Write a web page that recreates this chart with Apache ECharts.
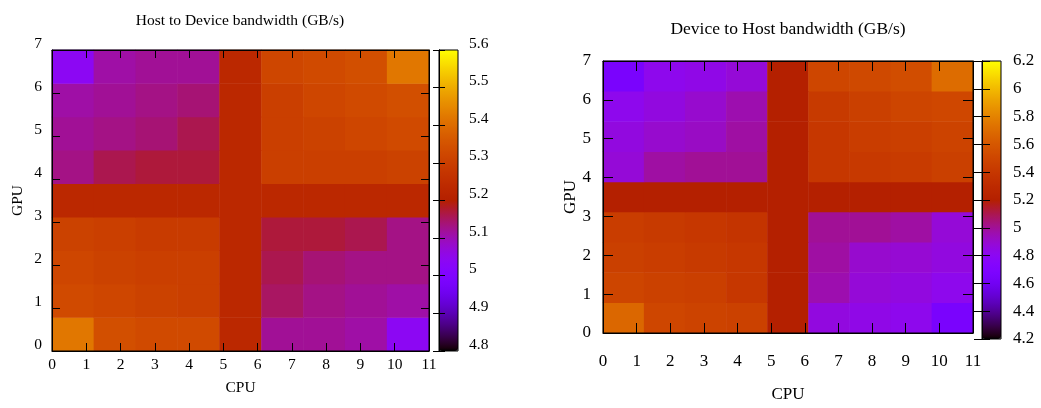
<!DOCTYPE html>
<html><head><meta charset="utf-8">
<script src="https://cdn.jsdelivr.net/npm/echarts@6/dist/echarts.min.js"></script>
<style>html,body{margin:0;padding:0;background:#fff}#c{width:1041px;height:408px}</style>
</head><body><div id="c"></div>
<script>
// Cell rows listed from bottom (GPU row 0) to top (row 8); 9 CPU columns each
const cellIndex = ['0','1','2','3','4','5','6','7','8'];
const h2dRows = [
  [5.42,5.34,5.33,5.33,5.23,5.12,5.12,5.11,5.04],
  [5.33,5.32,5.31,5.30,5.23,5.15,5.13,5.12,5.11],
  [5.32,5.31,5.30,5.30,5.23,5.16,5.14,5.13,5.13],
  [5.31,5.30,5.29,5.29,5.23,5.17,5.17,5.16,5.13],
  [5.23,5.23,5.23,5.23,5.23,5.23,5.23,5.23,5.23],
  [5.13,5.16,5.17,5.17,5.23,5.30,5.30,5.30,5.31],
  [5.12,5.13,5.14,5.16,5.23,5.30,5.31,5.32,5.33],
  [5.11,5.12,5.13,5.14,5.23,5.30,5.32,5.33,5.34],
  [5.04,5.11,5.12,5.12,5.23,5.32,5.33,5.34,5.42]
];
const d2hRows = [
  [5.68,5.50,5.48,5.47,5.20,4.86,4.84,4.82,4.66],
  [5.49,5.47,5.45,5.40,5.20,4.96,4.88,4.86,4.82],
  [5.46,5.44,5.42,5.40,5.20,4.98,4.90,4.89,4.86],
  [5.44,5.42,5.40,5.38,5.20,5.00,5.00,4.98,4.88],
  [5.20,5.20,5.20,5.20,5.20,5.20,5.20,5.20,5.20],
  [4.88,4.98,5.00,5.00,5.20,5.40,5.41,5.43,5.46],
  [4.86,4.90,4.92,4.98,5.20,5.40,5.44,5.45,5.48],
  [4.82,4.86,4.90,4.96,5.20,5.42,5.46,5.49,5.51],
  [4.66,4.82,4.84,4.88,5.20,5.50,5.52,5.54,5.70]
];
const titles = ['Host to Device bandwidth (GB/s)', 'Device to Host bandwidth (GB/s)'];
const cpuRange = [0, 11];
const gpuRange = [0, 7];
const h2dScale = [4.8, 5.6, 0.1];
const d2hScale = [4.2, 6.2, 0.2];

const FONT = 'Liberation Serif';
// gnuplot default pm3d palette (rgbformulae 7,5,15)
function gp(t){
  const r = Math.sqrt(t), g = t*t*t, b = Math.max(0, Math.sin(2*Math.PI*t));
  const h = v => Math.round(Math.max(0,Math.min(1,v))*255).toString(16).padStart(2,'0');
  return '#' + h(r) + h(g) + h(b);
}
const palette = [];
for (let i = 0; i <= 100; i++) palette.push(gp(i/100));
function toData(rows){
  const out = [];
  rows.forEach((row, y) => row.forEach((v, x) => out.push([x, y, v])));
  return out;
}
const fmt = v => String(+(+v).toFixed(3));

const L = [
  {grid:{left:52, top:50, width:377, height:301}, cb:{left:439, top:50, width:19, height:301},
   fs:15.5, tfs:15.5, tick:8, cbTick:6, xMargin:6, yMargin:10, cbMargin:11, nameGapX:29, nameGapY:26, titleTop:13, titleX:240,
   yAlign:'bottom', yLH:13, scale:h2dScale, rows:h2dRows},
  {grid:{left:603, top:61, width:370, height:278}, cb:{left:982, top:61, width:19, height:278},
   fs:17, tfs:17.5, tick:10, cbTick:8, xMargin:20, yMargin:12, cbMargin:12, nameGapX:53, nameGapY:24, titleTop:20, titleX:788,
   yAlign:'middle', yLH:17, scale:d2hScale, rows:d2hRows}
];

const option = {
  animation:false,
  textStyle:{fontFamily:FONT, color:'#000'},
  title:[], grid:[], xAxis:[], yAxis:[], visualMap:[], series:[]
};
L.forEach((c, k) => {
  const txt = {fontFamily:FONT, fontSize:c.fs, color:'#000'};
  option.title.push({text:titles[k], left:c.titleX, top:c.titleTop, textAlign:'center', padding:0,
    textStyle:{fontFamily:FONT, fontSize:c.tfs, fontWeight:'normal', color:'#000'}});
  const g0 = option.grid.length;
  option.grid.push(Object.assign({show:true, borderColor:'#000', borderWidth:1, backgroundColor:'transparent', z:10}, c.grid));
  option.grid.push(Object.assign({show:true, borderColor:'#000', borderWidth:1, backgroundColor:'transparent', z:10}, c.cb));
  const xi = option.xAxis.length, yi = option.yAxis.length;
  // hidden category axes for the heatmap cells
  option.xAxis.push({gridIndex:g0, type:'category', data:cellIndex, show:false});
  option.yAxis.push({gridIndex:g0, type:'category', data:cellIndex, show:false});
  // visible value axes
  const valX = (pos, labels) => ({gridIndex:g0, type:'value', position:pos, min:cpuRange[0], max:cpuRange[1], interval:1, z:10,
    name: labels ? 'CPU' : '', nameLocation:'middle', nameGap:c.nameGapX, nameTextStyle:txt,
    axisLine:{show:true, lineStyle:{color:'#000', width:1}},
    axisTick:{show:true, inside:true, length:c.tick, lineStyle:{color:'#000', width:1}},
    axisLabel:{show:labels, margin:c.xMargin, ...txt, formatter:fmt},
    splitLine:{show:false}});
  const valY = (pos, labels) => ({gridIndex:g0, type:'value', position:pos, min:gpuRange[0], max:gpuRange[1], interval:1, z:10,
    name: labels ? 'GPU' : '', nameLocation:'middle', nameGap:c.nameGapY, nameTextStyle:txt,
    axisLine:{show:true, lineStyle:{color:'#000', width:1}},
    axisTick:{show:true, inside:true, length:c.tick, lineStyle:{color:'#000', width:1}},
    axisLabel:{show:labels, margin:c.yMargin, verticalAlign:c.yAlign, lineHeight:c.yLH, ...txt, formatter:fmt},
    splitLine:{show:false}});
  option.xAxis.push(valX('bottom', true), valX('top', false));
  option.yAxis.push(valY('left', true), valY('right', false));
  // colour bar axes
  option.xAxis.push({gridIndex:g0+1, type:'value', show:false, min:0, max:1});
  const cbY = (pos, labels) => ({gridIndex:g0+1, type:'value', position:pos, min:c.scale[0], max:c.scale[1], interval:c.scale[2], z:10,
    axisLine:{show:true, lineStyle:{color:'#000', width:1}},
    axisTick:{show:true, inside:true, length:c.cbTick, lineStyle:{color:'#000', width:1}},
    axisLabel:{show:labels, margin:c.cbMargin, verticalAlign:c.yAlign, lineHeight:c.yLH, ...txt, formatter:fmt},
    splitLine:{show:false}});
  option.yAxis.push(cbY('right', true), cbY('left', false));
  const si = option.series.length;
  option.series.push({type:'heatmap', xAxisIndex:xi, yAxisIndex:yi, data:toData(c.rows),
    emphasis:{disabled:true}, itemStyle:{borderWidth:0}});
  option.visualMap.push({type:'continuous', seriesIndex:si, min:c.scale[0], max:c.scale[1],
    orient:'vertical', left:c.cb.left, top:c.cb.top, itemWidth:c.cb.width, itemHeight:c.cb.height,
    padding:0, calculable:false, showLabel:false, text:null, hoverLink:false,
    inRange:{color:palette}});
});
const chart = echarts.init(document.getElementById('c'), null, {renderer:'canvas'});
chart.setOption(option);
</script></body></html>
